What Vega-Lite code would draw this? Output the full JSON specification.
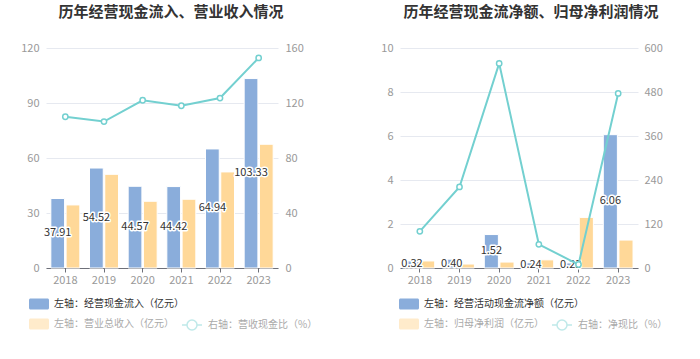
{
  "$schema": "https://vega.github.io/schema/vega-lite/v6.json",
  "padding": {"left": 20, "top": 4, "right": 0, "bottom": 0},
  "bounds": "flush",
  "spacing": 122,
  "config": {
    "font": "Noto Sans CJK SC",
    "view": {"stroke": null},
    "title": {"fontSize": 15, "fontWeight": "bold", "color": "#333333", "anchor": "middle"},
    "axis": {"labelColor": "#999999", "labelFontSize": 11, "title": null},
    "legend": {"orient": "none", "title": null, "padding": 0, "labelLimit": 300, "labelFontSize": 10, "labelOffset": 5, "symbolSize": 400}
  },
  "datasets": {
    "leftBars": [
      {"year": "2018", "s": "左轴：经营现金流入（亿元）", "v": 37.91},
      {"year": "2019", "s": "左轴：经营现金流入（亿元）", "v": 54.52},
      {"year": "2020", "s": "左轴：经营现金流入（亿元）", "v": 44.57},
      {"year": "2021", "s": "左轴：经营现金流入（亿元）", "v": 44.42},
      {"year": "2022", "s": "左轴：经营现金流入（亿元）", "v": 64.94},
      {"year": "2023", "s": "左轴：经营现金流入（亿元）", "v": 103.33},
      {"year": "2018", "s": "左轴：营业总收入（亿元）", "v": 34.4},
      {"year": "2019", "s": "左轴：营业总收入（亿元）", "v": 51.1},
      {"year": "2020", "s": "左轴：营业总收入（亿元）", "v": 36.4},
      {"year": "2021", "s": "左轴：营业总收入（亿元）", "v": 37.5},
      {"year": "2022", "s": "左轴：营业总收入（亿元）", "v": 52.4},
      {"year": "2023", "s": "左轴：营业总收入（亿元）", "v": 67.5}
    ],
    "leftLine": [
      {"year": "2018", "r": 110.0},
      {"year": "2019", "r": 106.5},
      {"year": "2020", "r": 122.0},
      {"year": "2021", "r": 118.0},
      {"year": "2022", "r": 123.6},
      {"year": "2023", "r": 152.8}
    ],
    "rightBars": [
      {"year": "2018", "s": "左轴：经营活动现金流净额（亿元）", "v": 0.32},
      {"year": "2019", "s": "左轴：经营活动现金流净额（亿元）", "v": 0.40},
      {"year": "2020", "s": "左轴：经营活动现金流净额（亿元）", "v": 1.52},
      {"year": "2021", "s": "左轴：经营活动现金流净额（亿元）", "v": 0.24},
      {"year": "2022", "s": "左轴：经营活动现金流净额（亿元）", "v": 0.23},
      {"year": "2023", "s": "左轴：经营活动现金流净额（亿元）", "v": 6.06},
      {"year": "2018", "s": "左轴：归母净利润（亿元）", "v": 0.32},
      {"year": "2019", "s": "左轴：归母净利润（亿元）", "v": 0.18},
      {"year": "2020", "s": "左轴：归母净利润（亿元）", "v": 0.27},
      {"year": "2021", "s": "左轴：归母净利润（亿元）", "v": 0.37},
      {"year": "2022", "s": "左轴：归母净利润（亿元）", "v": 2.30},
      {"year": "2023", "s": "左轴：归母净利润（亿元）", "v": 1.27}
    ],
    "rightLine": [
      {"year": "2018", "r": 100},
      {"year": "2019", "r": 221},
      {"year": "2020", "r": 558},
      {"year": "2021", "r": 64.6},
      {"year": "2022", "r": 9.5},
      {"year": "2023", "r": 476}
    ]
  },
  "hconcat": [
    {
      "width": 232,
      "height": 220,
      "title": {"text": "历年经营现金流入、营业收入情况", "dx": 9, "offset": 22.5},
      "layer": [
        {
          "data": {"name": "leftBars"},
          "layer": [
            {
              "transform": [{"filter": "datum.s === '左轴：经营现金流入（亿元）'"}],
              "mark": {"type": "bar", "stroke": "white", "strokeWidth": 1},
              "encoding": {
                "x": {"field": "year", "type": "nominal", "scale": {"paddingInner": 0.25, "paddingOuter": 0.125}, "axis": {"labelAngle": 0, "domainColor": "#6e7079", "tickColor": "#6e7079", "tickSize": 4, "labelPadding": 2}},
                "xOffset": {"field": "s", "type": "nominal", "scale": {"domain": ["左轴：经营现金流入（亿元）", "左轴：营业总收入（亿元）"], "paddingInner": 0.1}},
                "y": {"field": "v", "type": "quantitative", "scale": {"domain": [0, 120], "nice": false}, "axis": {"values": [0, 30, 60, 90, 120], "domain": false, "ticks": false, "grid": true, "gridColor": "#e6e9f0", "labelPadding": 7}},
                "fill": {"field": "s", "type": "nominal", "scale": {"domain": ["左轴：经营现金流入（亿元）"], "range": ["#8aaddb"]},
                  "legend": {"legendX": -17, "legendY": 246, "symbolType": "M-0.85,-0.55L0.85,-0.55A0.15,0.15,0,0,1,1,-0.4L1,0.4A0.15,0.15,0,0,1,0.85,0.55L-0.85,0.55A0.15,0.15,0,0,1,-1,0.4L-1,-0.4A0.15,0.15,0,0,1,-0.85,-0.55Z", "symbolStrokeWidth": 0, "labelColor": "#333333"}}
              }
            },
            {
              "transform": [{"filter": "datum.s === '左轴：营业总收入（亿元）'"}],
              "mark": {"type": "bar", "stroke": "white", "strokeWidth": 1},
              "encoding": {
                "x": {"field": "year", "type": "nominal"},
                "xOffset": {"field": "s", "type": "nominal"},
                "y": {"field": "v", "type": "quantitative"},
                "color": {"field": "s", "type": "nominal", "scale": {"domain": ["左轴：营业总收入（亿元）"], "range": ["#ffd898"]},
                  "legend": {"legendX": -17, "legendY": 266, "symbolType": "M-0.85,-0.55L0.85,-0.55A0.15,0.15,0,0,1,1,-0.4L1,0.4A0.15,0.15,0,0,1,0.85,0.55L-0.85,0.55A0.15,0.15,0,0,1,-1,0.4L-1,-0.4A0.15,0.15,0,0,1,-0.85,-0.55Z", "symbolStrokeWidth": 0, "symbolOpacity": 0.5, "labelColor": "#aaaaaa"}}
              }
            },
            {
              "transform": [{"filter": "datum.s === '左轴：经营现金流入（亿元）'"}, {"calculate": "datum.v / 2", "as": "mid"}],
              "mark": {"type": "text", "stroke": "white", "strokeWidth": 3, "strokeJoin": "round", "fill": "white", "fontSize": 11},
              "encoding": {
                "x": {"field": "year", "type": "nominal"},
                "xOffset": {"field": "s", "type": "nominal"},
                "y": {"field": "mid", "type": "quantitative"},
                "text": {"field": "v", "type": "quantitative", "format": ".2f"}
              }
            },
            {
              "transform": [{"filter": "datum.s === '左轴：经营现金流入（亿元）'"}, {"calculate": "datum.v / 2", "as": "mid"}],
              "mark": {"type": "text", "fill": "#333333", "fontSize": 11},
              "encoding": {
                "x": {"field": "year", "type": "nominal"},
                "xOffset": {"field": "s", "type": "nominal"},
                "y": {"field": "mid", "type": "quantitative"},
                "text": {"field": "v", "type": "quantitative", "format": ".2f"}
              }
            }
          ]
        },
        {
          "data": {"name": "leftLine"},
          "mark": {"type": "line", "strokeWidth": 2, "point": {"filled": false, "fill": "white", "size": 28, "strokeWidth": 1.5}},
          "encoding": {
            "x": {"field": "year", "type": "nominal"},
            "y": {"field": "r", "type": "quantitative", "scale": {"domain": [0, 160], "nice": false}, "axis": {"orient": "right", "values": [0, 40, 80, 120, 160], "domain": false, "ticks": false, "grid": false, "labelPadding": 7}},
            "stroke": {"datum": "右轴：营收现金比（%）", "type": "nominal", "scale": {"range": ["#73d0d0"]},
              "legend": {"legendX": 135, "legendY": 266, "symbolType": "M-1,0L-0.5,0M0.5,0L1,0M-0.5,0A0.5,0.5,0,1,0,0.5,0A0.5,0.5,0,1,0,-0.5,0", "symbolStrokeWidth": 1.5, "symbolFillColor": "white", "symbolOpacity": 0.45, "labelColor": "#aaaaaa"}}
          }
        }
      ],
      "resolve": {"scale": {"y": "independent"}}
    },
    {
      "width": 238,
      "height": 220,
      "title": {"text": "历年经营现金流净额、归母净利润情况", "dx": 12, "offset": 22.5},
      "layer": [
        {
          "data": {"name": "rightBars"},
          "layer": [
            {
              "transform": [{"filter": "datum.s === '左轴：经营活动现金流净额（亿元）'"}],
              "mark": {"type": "bar", "stroke": "white", "strokeWidth": 1},
              "encoding": {
                "x": {"field": "year", "type": "nominal", "scale": {"paddingInner": 0.25, "paddingOuter": 0.125}, "axis": {"labelAngle": 0, "domainColor": "#6e7079", "tickColor": "#6e7079", "tickSize": 4, "labelPadding": 2}},
                "xOffset": {"field": "s", "type": "nominal", "scale": {"domain": ["左轴：经营活动现金流净额（亿元）", "左轴：归母净利润（亿元）"], "paddingInner": 0.1}},
                "y": {"field": "v", "type": "quantitative", "scale": {"domain": [0, 10], "nice": false}, "axis": {"values": [0, 2, 4, 6, 8, 10], "domain": false, "ticks": false, "grid": true, "gridColor": "#e6e9f0", "labelPadding": 7}},
                "fill": {"field": "s", "type": "nominal", "scale": {"domain": ["左轴：经营活动现金流净额（亿元）"], "range": ["#8aaddb"]},
                  "legend": {"legendX": -1, "legendY": 246, "symbolType": "M-0.85,-0.55L0.85,-0.55A0.15,0.15,0,0,1,1,-0.4L1,0.4A0.15,0.15,0,0,1,0.85,0.55L-0.85,0.55A0.15,0.15,0,0,1,-1,0.4L-1,-0.4A0.15,0.15,0,0,1,-0.85,-0.55Z", "symbolStrokeWidth": 0, "labelColor": "#333333"}}
              }
            },
            {
              "transform": [{"filter": "datum.s === '左轴：归母净利润（亿元）'"}],
              "mark": {"type": "bar", "stroke": "white", "strokeWidth": 1},
              "encoding": {
                "x": {"field": "year", "type": "nominal"},
                "xOffset": {"field": "s", "type": "nominal"},
                "y": {"field": "v", "type": "quantitative"},
                "color": {"field": "s", "type": "nominal", "scale": {"domain": ["左轴：归母净利润（亿元）"], "range": ["#ffd898"]},
                  "legend": {"legendX": -1, "legendY": 266, "symbolType": "M-0.85,-0.55L0.85,-0.55A0.15,0.15,0,0,1,1,-0.4L1,0.4A0.15,0.15,0,0,1,0.85,0.55L-0.85,0.55A0.15,0.15,0,0,1,-1,0.4L-1,-0.4A0.15,0.15,0,0,1,-0.85,-0.55Z", "symbolStrokeWidth": 0, "symbolOpacity": 0.5, "labelColor": "#aaaaaa"}}
              }
            },
            {
              "transform": [{"filter": "datum.s === '左轴：经营活动现金流净额（亿元）'"}, {"calculate": "datum.v / 2", "as": "mid"}],
              "mark": {"type": "text", "stroke": "white", "strokeWidth": 3, "strokeJoin": "round", "fill": "white", "fontSize": 11},
              "encoding": {
                "x": {"field": "year", "type": "nominal"},
                "xOffset": {"field": "s", "type": "nominal"},
                "y": {"field": "mid", "type": "quantitative"},
                "text": {"field": "v", "type": "quantitative", "format": ".2f"}
              }
            },
            {
              "transform": [{"filter": "datum.s === '左轴：经营活动现金流净额（亿元）'"}, {"calculate": "datum.v / 2", "as": "mid"}],
              "mark": {"type": "text", "fill": "#333333", "fontSize": 11},
              "encoding": {
                "x": {"field": "year", "type": "nominal"},
                "xOffset": {"field": "s", "type": "nominal"},
                "y": {"field": "mid", "type": "quantitative"},
                "text": {"field": "v", "type": "quantitative", "format": ".2f"}
              }
            }
          ]
        },
        {
          "data": {"name": "rightLine"},
          "mark": {"type": "line", "strokeWidth": 2, "point": {"filled": false, "fill": "white", "size": 28, "strokeWidth": 1.5}},
          "encoding": {
            "x": {"field": "year", "type": "nominal"},
            "y": {"field": "r", "type": "quantitative", "scale": {"domain": [0, 600], "nice": false}, "axis": {"orient": "right", "values": [0, 120, 240, 360, 480, 600], "domain": false, "ticks": false, "grid": false, "labelPadding": 6}},
            "stroke": {"datum": "右轴：净现比（%）", "type": "nominal", "scale": {"range": ["#73d0d0"]},
              "legend": {"legendX": 151, "legendY": 266, "symbolType": "M-1,0L-0.5,0M0.5,0L1,0M-0.5,0A0.5,0.5,0,1,0,0.5,0A0.5,0.5,0,1,0,-0.5,0", "symbolStrokeWidth": 1.5, "symbolFillColor": "white", "symbolOpacity": 0.45, "labelColor": "#aaaaaa"}}
          }
        }
      ],
      "resolve": {"scale": {"y": "independent"}}
    }
  ],
  "resolve": {"scale": {"color": "independent", "fill": "independent", "stroke": "independent", "x": "independent", "y": "independent", "xOffset": "independent"}}
}
